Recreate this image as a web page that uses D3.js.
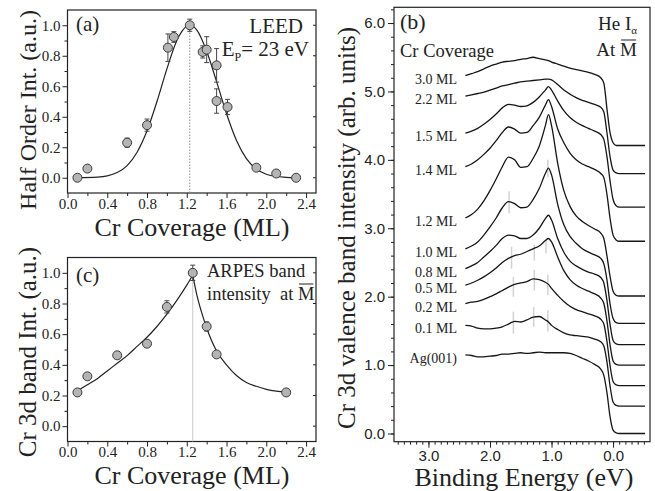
<!DOCTYPE html>
<html>
<head>
<meta charset="utf-8">
<script src="https://cdn.jsdelivr.net/npm/d3@7"></script>
<style>
  body { margin: 0; background: #fff; }
  svg text { font-family: "Liberation Serif", "Times New Roman", serif; fill: #222; }
  svg .sans text { font-family: "Liberation Sans", Arial, sans-serif; }
</style>
</head>
<body>
<svg id="fig" width="655" height="491"></svg>
<script>
"use strict";

// ---- panel (a): LEED half order spot intensity vs coverage
const leedCov = [0.1, 0.2, 0.6, 0.8, 1.01, 1.07, 1.23, 1.36, 1.40, 1.50, 1.50, 1.61, 1.90, 2.10, 2.30];
const leedInt = [0.0, 0.06, 0.23, 0.345, 0.853, 0.923, 1.0, 0.825, 0.84, 0.737, 0.503, 0.464, 0.066, 0.028, 0.0];
const leedErr = [0, 0, 0.03, 0.04, 0.09, 0.035, 0.04, 0.04, 0.085, 0.11, 0.08, 0.05, 0, 0, 0];
const leedFitCov = [0.1, 0.3, 0.4, 0.5, 0.6, 0.7, 0.8, 0.9, 1.0, 1.1, 1.2, 1.23, 1.3, 1.4, 1.5, 1.6, 1.7, 1.8, 1.9, 2.0, 2.1, 2.2, 2.3];
const leedFitInt = [0.0, 0.004, 0.012, 0.034, 0.08, 0.167, 0.308, 0.50, 0.714, 0.90, 0.994, 1.0, 0.97, 0.83, 0.63, 0.42, 0.245, 0.126, 0.057, 0.023, 0.008, 0.003, 0.0];
const leedPeak = 1.23;

// ---- panel (c): ARPES Cr 3d band intensity vs coverage
const arpesCov = [0.1, 0.2, 0.5, 0.8, 1.0, 1.26, 1.4, 1.5, 2.2];
const arpesInt = [0.22, 0.325, 0.462, 0.538, 0.778, 1.0, 0.65, 0.468, 0.22];
const arpesErr = [0, 0, 0, 0, 0.04, 0.05, 0.03, 0, 0];
const arpesRiseCov = [0.1, 0.2, 0.3, 0.4, 0.5, 0.6, 0.7, 0.8, 0.9, 1.0, 1.1, 1.2, 1.26];
const arpesRiseInt = [0.23, 0.27, 0.31, 0.36, 0.41, 0.46, 0.52, 0.58, 0.65, 0.73, 0.82, 0.92, 0.985];
const arpesFallCov = [1.26, 1.3, 1.35, 1.4, 1.5, 1.6, 1.7, 1.8, 1.9, 2.0, 2.1, 2.2];
const arpesFallInt = [0.985, 0.86, 0.74, 0.64, 0.49, 0.40, 0.33, 0.285, 0.26, 0.24, 0.228, 0.222];
const arpesPeak = 1.26;

// ---- panel (b): valence band spectra, binding energy grid (eV)
const energy = [2.4, 2.3, 2.2, 2.1, 2.0, 1.9, 1.8, 1.7, 1.6, 1.5, 1.4, 1.3, 1.2, 1.1, 1.05, 1.0,
                0.9, 0.8, 0.7, 0.6, 0.5, 0.4, 0.3, 0.2, 0.15, 0.1, 0.05, 0.0, -0.05, -0.1, -0.3, -0.52];
const spectraNames = ["3.0 ML", "2.2 ML", "1.5 ML", "1.4 ML", "1.2 ML", "1.0 ML", "0.8 ML", "0.5 ML", "0.2 ML", "0.1 ML", "Ag(001)"];
const spec30 = [5.23, 5.26, 5.29, 5.33, 5.37, 5.40, 5.43, 5.44, 5.45, 5.47, 5.48, 5.50, 5.48, 5.46, 5.45, 5.43,
                5.40, 5.37, 5.34, 5.32, 5.30, 5.28, 5.25, 5.20, 5.12, 4.75, 4.40, 4.25, 4.21, 4.21, 4.21, 4.21];
const spec22 = [4.93, 4.95, 4.97, 4.99, 5.02, 5.05, 5.08, 5.10, 5.12, 5.14, 5.15, 5.16, 5.17, 5.18, 5.18, 5.17,
                5.10, 5.02, 4.96, 4.91, 4.87, 4.84, 4.81, 4.77, 4.70, 4.40, 4.05, 3.85, 3.81, 3.80, 3.80, 3.80];
const spec15 = [4.39, 4.42, 4.46, 4.52, 4.59, 4.67, 4.76, 4.81, 4.80, 4.78, 4.79, 4.84, 4.92, 5.02, 5.07, 5.02,
                4.86, 4.72, 4.62, 4.55, 4.50, 4.46, 4.42, 4.37, 4.30, 4.05, 3.70, 3.42, 3.33, 3.31, 3.31, 3.31];
const spec14 = [3.90, 3.94, 4.00, 4.08, 4.17, 4.28, 4.40, 4.48, 4.45, 4.39, 4.40, 4.50, 4.62, 4.80, 4.88, 4.78,
                4.45, 4.25, 4.10, 4.00, 3.94, 3.90, 3.86, 3.80, 3.74, 3.50, 3.15, 2.90, 2.83, 2.81, 2.81, 2.81];
const spec12 = [3.15, 3.20, 3.28, 3.40, 3.55, 3.72, 3.90, 4.04, 4.00, 3.89, 3.90, 4.02, 4.20, 4.50, 4.66, 4.50,
                3.95, 3.55, 3.32, 3.18, 3.10, 3.04, 2.99, 2.93, 2.85, 2.60, 2.30, 2.08, 2.02, 2.01, 2.01, 2.01];
const spec10 = [2.70, 2.74, 2.80, 2.90, 3.02, 3.15, 3.30, 3.39, 3.36, 3.30, 3.31, 3.42, 3.58, 3.80, 3.88, 3.78,
                3.35, 3.05, 2.88, 2.78, 2.70, 2.65, 2.61, 2.56, 2.48, 2.25, 1.90, 1.68, 1.62, 1.61, 1.61, 1.61];
const spec08 = [2.41, 2.45, 2.50, 2.58, 2.66, 2.75, 2.85, 2.90, 2.89, 2.85, 2.85, 2.90, 3.00, 3.14, 3.19, 3.12,
                2.85, 2.65, 2.52, 2.45, 2.40, 2.36, 2.33, 2.28, 2.20, 1.95, 1.60, 1.36, 1.31, 1.30, 1.30, 1.30];
const spec05 = [2.17, 2.20, 2.24, 2.29, 2.35, 2.42, 2.50, 2.56, 2.60, 2.62, 2.66, 2.70, 2.74, 2.82, 2.85, 2.80,
                2.58, 2.38, 2.25, 2.17, 2.12, 2.08, 2.04, 1.98, 1.90, 1.65, 1.30, 1.06, 1.01, 1.00, 1.00, 1.00];
const spec02 = [1.90, 1.92, 1.93, 1.96, 2.00, 2.04, 2.09, 2.14, 2.18, 2.20, 2.22, 2.26, 2.25, 2.21, 2.18, 2.12,
                2.02, 1.93, 1.86, 1.81, 1.78, 1.75, 1.72, 1.67, 1.60, 1.35, 1.00, 0.76, 0.71, 0.70, 0.70, 0.70];
const spec01 = [1.58, 1.57, 1.54, 1.53, 1.53, 1.54, 1.56, 1.60, 1.64, 1.63, 1.66, 1.70, 1.71, 1.66, 1.63, 1.58,
                1.52, 1.47, 1.44, 1.43, 1.42, 1.41, 1.38, 1.34, 1.28, 1.05, 0.70, 0.46, 0.41, 0.40, 0.40, 0.40];
const specAg = [1.15, 1.14, 1.12, 1.12, 1.13, 1.14, 1.16, 1.16, 1.17, 1.18, 1.17, 1.18, 1.19, 1.18, 1.18, 1.18,
                1.18, 1.18, 1.17, 1.14, 1.10, 1.06, 1.01, 0.94, 0.85, 0.60, 0.25, 0.05, 0.01, 0.00, 0.00, 0.00];
const spectra = [spec30, spec22, spec15, spec14, spec12, spec10, spec08, spec05, spec02, spec01, specAg];

// faint grey peak markers on the lower spectra
const markE  = [1.69, 1.06, 1.65, 1.28, 1.09, 1.62, 1.28, 1.06, 1.62, 1.29, 1.06];
const markLo = [3.22, 3.75, 2.41, 2.53, 2.63, 2.00, 2.09, 2.02, 1.46, 1.56, 1.49];
const markHi = [3.54, 4.00, 2.73, 2.76, 2.83, 2.29, 2.39, 2.32, 1.78, 1.85, 1.80];

const ink = "#222";
const svg = d3.select("#fig");

function drawAxes(g, x, y, o) {
  const [x0, x1] = x.range(), [y0, y1] = y.range();
  const ax = g.append("g").attr("class", o.cls || "");
  ax.append("g").attr("transform", `translate(0,${y0})`)
    .call(d3.axisBottom(x).tickValues(o.xMinor).tickSize(3).tickFormat(""));
  ax.append("g").attr("transform", `translate(0,${y0})`)
    .call(d3.axisBottom(x).tickValues(o.xMajor).tickSize(o.tick).tickPadding(o.xPad).tickFormat(o.fmt));
  ax.append("g").attr("transform", `translate(${x0},0)`)
    .call(d3.axisLeft(y).tickValues(o.yMinor).tickSize(3).tickFormat(""));
  ax.append("g").attr("transform", `translate(${x0},0)`)
    .call(d3.axisLeft(y).tickValues(o.yMajor).tickSize(o.tick).tickPadding(o.yPad).tickFormat(o.fmt));
  ax.selectAll(".domain").remove();
  ax.selectAll("g").attr("font-size", o.fs).attr("font-family", null);
  ax.selectAll("line").attr("stroke", ink);
  g.append("rect")
    .attr("x", x0).attr("y", y1)
    .attr("width", x1 - x0).attr("height", y0 - y1)
    .attr("fill", "none").attr("stroke", ink).attr("stroke-width", 1.2);
}

function coveragePanel(top, bottom) {
  const x = d3.scaleLinear([0, 2.5], [67.5, 316]);
  const y = d3.scaleLinear([-0.1, 1.1], [bottom, top]);
  const g = svg.append("g");
  drawAxes(g, x, y, {
    xMajor: d3.range(0, 2.41, 0.4), xMinor: d3.range(0.2, 2.5, 0.4),
    yMajor: d3.range(0, 1.01, 0.2), yMinor: d3.range(0.1, 1.0, 0.2),
    tick: 5, xPad: 0, yPad: 2, fs: 15, fmt: d3.format(".1f")
  });
  // mirrored ticks on the right edge
  g.selectAll(".rtick").data(d3.range(0, 1.01, 0.2)).join("line")
    .attr("x1", x.range()[1]).attr("x2", x.range()[1] - 3)
    .attr("y1", d => y(d)).attr("y2", d => y(d))
    .attr("stroke", ink);
  return {g, x, y};
}

function drawPoints(p, xs, ys, errs) {
  const pts = xs.map((v, i) => ({x: v, y: ys[i], e: errs[i]}));
  const eb = p.g.append("g").attr("stroke", "#444").attr("stroke-width", 1);
  pts.filter(d => d.e > 0).forEach(d => {
    eb.append("line").attr("x1", p.x(d.x)).attr("x2", p.x(d.x))
      .attr("y1", p.y(d.y - d.e)).attr("y2", p.y(d.y + d.e));
    [d.y - d.e, d.y + d.e].forEach(v => {
      eb.append("line").attr("x1", p.x(d.x) - 2.5).attr("x2", p.x(d.x) + 2.5)
        .attr("y1", p.y(v)).attr("y2", p.y(v));
    });
  });
  p.g.append("g").selectAll("circle").data(pts).join("circle")
    .attr("cx", d => p.x(d.x)).attr("cy", d => p.y(d.y)).attr("r", 4.5)
    .attr("fill", "#b4b4b4").attr("stroke", "#3a3a3a").attr("stroke-width", 1);
}

function fitLine(p, xs, ys) {
  p.g.append("path")
    .datum(xs.map((v, i) => [v, ys[i]]))
    .attr("d", d3.line().x(d => p.x(d[0])).y(d => p.y(d[1])).curve(d3.curveMonotoneX))
    .attr("fill", "none").attr("stroke", ink).attr("stroke-width", 1.2);
}

// ---------- panel (a)
const pa = coveragePanel(10, 193);
pa.g.append("line")
  .attr("x1", pa.x(leedPeak)).attr("x2", pa.x(leedPeak))
  .attr("y1", pa.y(-0.1)).attr("y2", pa.y(0.97))
  .attr("stroke", "#8a8a8a").attr("stroke-dasharray", "1.5,1.5");
fitLine(pa, leedFitCov, leedFitInt);
drawPoints(pa, leedCov, leedInt, leedErr);
pa.g.append("text").attr("x", 76).attr("y", 31).attr("font-size", 21).text("(a)");
pa.g.append("text").attr("x", 303).attr("y", 33).attr("font-size", 21).attr("text-anchor", "end").text("LEED");
const ep = pa.g.append("text").attr("x", 309).attr("y", 56).attr("font-size", 21).attr("text-anchor", "end");
ep.append("tspan").text("E");
ep.append("tspan").attr("font-size", 12).attr("dy", 5).text("P");
ep.append("tspan").attr("dy", -5).text("= 23 eV");
pa.g.append("text").attr("transform", "translate(36,110) rotate(-90)")
  .attr("text-anchor", "middle").attr("font-size", 24).text("Half Order Int. (a.u.)");
pa.g.append("text").attr("x", 192).attr("y", 236)
  .attr("text-anchor", "middle").attr("font-size", 26).text("Cr Coverage (ML)");

// ---------- panel (c)
const pc = coveragePanel(257.5, 441.5);
pc.g.append("line")
  .attr("x1", pc.x(arpesPeak)).attr("x2", pc.x(arpesPeak))
  .attr("y1", pc.y(-0.1)).attr("y2", pc.y(0.97))
  .attr("stroke", "#c8c8c8").attr("stroke-width", 1);
fitLine(pc, arpesRiseCov, arpesRiseInt);
fitLine(pc, arpesFallCov, arpesFallInt);
drawPoints(pc, arpesCov, arpesInt, arpesErr);
pc.g.append("text").attr("x", 76).attr("y", 282).attr("font-size", 21).text("(c)");
pc.g.append("text").attr("x", 207).attr("y", 277).attr("font-size", 18.5).text("ARPES band");
const it = pc.g.append("text").attr("x", 207).attr("y", 300).attr("font-size", 18.5)
  .attr("xml:space", "preserve").text("intensity  at ");
const mX = 207 + it.node().getComputedTextLength();
const mT = pc.g.append("text").attr("x", mX).attr("y", 300).attr("font-size", 18.5).text("M");
const mW = mT.node().getComputedTextLength();
pc.g.append("line").attr("x1", mX + 1).attr("x2", mX + mW - 1)
  .attr("y1", 284).attr("y2", 284).attr("stroke", ink).attr("stroke-width", 1);
pc.g.append("text").attr("transform", "translate(36,352) rotate(-90)")
  .attr("text-anchor", "middle").attr("font-size", 25).text("Cr 3d band Int. (a.u.)");
pc.g.append("text").attr("x", 192).attr("y", 484)
  .attr("text-anchor", "middle").attr("font-size", 26).text("Cr Coverage (ML)");

// ---------- panel (b)
const xB = d3.scaleLinear([3.56, -0.6], [394, 650]);
const yB = d3.scaleLinear([-0.12, 6.23], [441.7, 7.3]);
const gb = svg.append("g");
drawAxes(gb, xB, yB, {
  cls: "sans",
  xMajor: [3, 2, 1, 0], xMinor: d3.range(-5, 36, 1).map(d => d / 10),
  yMajor: d3.range(0, 7, 1), yMinor: d3.range(0, 63, 2).map(d => d / 10),
  tick: 6, xPad: 3, yPad: 3, fs: 15, fmt: d3.format(".1f")
});

gb.append("g").selectAll("line").data(markE).join("line")
  .attr("x1", d => xB(d)).attr("x2", d => xB(d))
  .attr("y1", (d, i) => yB(markLo[i])).attr("y2", (d, i) => yB(markHi[i]))
  .attr("stroke", "#d2d2d2").attr("stroke-width", 1.5);

const specLine = d3.line().x(d => xB(d[0])).y(d => yB(d[1])).curve(d3.curveMonotoneX);
gb.append("g").selectAll("path")
  .data(spectra.map(s => s.map((v, i) => [energy[i], v])))
  .join("path")
  .attr("d", specLine)
  .attr("fill", "none").attr("stroke", "#151515").attr("stroke-width", 1.3);

gb.append("g").selectAll("text").data(spectraNames).join("text")
  .attr("x", 457).attr("y", (d, i) => yB(spectra[i][0]) + 8)
  .attr("text-anchor", "end").attr("font-size", 14).text(d => d);

gb.append("text").attr("x", 400).attr("y", 29).attr("font-size", 22).text("(b)");
gb.append("text").attr("x", 400).attr("y", 57).attr("font-size", 18.5).text("Cr Coverage");
const he = gb.append("text").attr("x", 637).attr("y", 30).attr("font-size", 19).attr("text-anchor", "end");
he.append("tspan").text("He I");
he.append("tspan").attr("font-size", 11).attr("dy", 4).text("\u03b1");
const at = gb.append("text").attr("x", 637).attr("y", 56).attr("font-size", 19).attr("text-anchor", "end").text("At M");
const atBox = at.node().getBBox();
const mw = 17;
gb.append("line").attr("x1", atBox.x + atBox.width - mw + 1).attr("x2", atBox.x + atBox.width - 1)
  .attr("y1", 40).attr("y2", 40).attr("stroke", ink).attr("stroke-width", 1);
gb.append("text").attr("transform", "translate(355,228) rotate(-90)")
  .attr("text-anchor", "middle").attr("font-size", 25).text("Cr 3d valence band intensity (arb. units)");
gb.append("text").attr("x", 524).attr("y", 486)
  .attr("text-anchor", "middle").attr("font-size", 26).text("Binding Energy (eV)");
</script>
</body>
</html>
